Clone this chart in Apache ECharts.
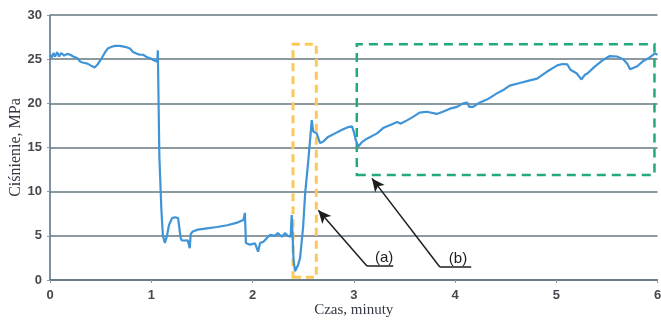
<!DOCTYPE html>
<html>
<head>
<meta charset="utf-8">
<script src="https://cdn.jsdelivr.net/npm/echarts@6/dist/echarts.min.js"></script>
<style>
  html, body { margin: 0; padding: 0; background: #ffffff; }
  #chart { width: 661px; height: 320px; }
</style>
</head>
<body>
<div id="chart"></div>
<script>
// Pressure trace: time in minutes
const czas = [
  0.00, 0.02, 0.033, 0.05, 0.07, 0.09, 0.11, 0.14, 0.17, 0.20, 0.23, 0.27, 0.30, 0.33, 0.37, 0.40,
  0.44, 0.47, 0.51, 0.54, 0.57, 0.61, 0.64, 0.69, 0.74, 0.79, 0.82, 0.86, 0.89, 0.92, 0.96, 0.99,
  1.02, 1.06, 1.065, 1.08, 1.10, 1.115, 1.135, 1.155, 1.175, 1.205, 1.235, 1.265, 1.28, 1.29, 1.30,
  1.33, 1.36, 1.38, 1.39, 1.41, 1.46, 1.55, 1.65, 1.75, 1.85, 1.91, 1.925, 1.935, 1.975, 2.025,
  2.055, 2.075, 2.105, 2.155, 2.175, 2.22, 2.25, 2.29, 2.32, 2.35, 2.377, 2.387, 2.397, 2.405,
  2.42, 2.45, 2.47, 2.50, 2.52, 2.55, 2.57, 2.585, 2.60, 2.617, 2.634, 2.647, 2.667, 2.696,
  2.746, 2.815, 2.884, 2.943, 2.983, 3.00, 3.02, 3.045, 3.08, 3.13, 3.23, 3.29, 3.36, 3.43,
  3.46, 3.53, 3.59, 3.65, 3.72, 3.82, 3.88, 3.95, 4.02, 4.08, 4.12, 4.14, 4.18, 4.23, 4.32,
  4.41, 4.49, 4.54, 4.64, 4.74, 4.81, 4.91, 5.01, 5.06, 5.11, 5.14, 5.20, 5.25, 5.28, 5.31,
  5.38, 5.46, 5.53, 5.60, 5.66, 5.70, 5.73, 5.80, 5.86, 5.91, 5.975, 6.00
];
// Pressure values, MPa
const cisnienie = [
  25.5, 25.2, 25.7, 25.3, 25.8, 25.3, 25.7, 25.4, 25.6, 25.5, 25.3, 25.1, 24.7, 24.6, 24.5, 24.3,
  24.05, 24.4, 25.1, 25.7, 26.2, 26.4, 26.5, 26.5, 26.4, 26.2, 25.8, 25.6, 25.5, 25.5, 25.2, 25.1,
  24.9, 24.7, 26.0, 14.0, 8.0, 5.0, 4.2, 5.0, 6.2, 7.0, 7.1, 7.0, 7.2, 4.8, 4.5,
  4.45, 4.5, 3.6, 5.2, 5.5, 5.7, 5.85, 6.0, 6.2, 6.5, 6.8, 7.6, 4.2, 4.0, 4.15,
  3.2, 4.2, 4.3, 4.9, 5.1, 5.0, 5.3, 4.9, 5.3, 5.0, 4.9, 7.35, 4.9, 2.3,
  1.0, 1.7, 2.5, 6.0, 9.8, 13.4, 16.0, 18.1, 16.8, 16.9, 16.6, 16.8, 15.5, 15.65,
  16.2, 16.6, 17.0, 17.3, 17.4, 16.8, 15.85, 15.1, 15.6, 16.0, 16.6, 17.2, 17.55, 17.9,
  17.7, 18.1, 18.5, 18.95, 19.05, 18.8, 19.05, 19.4, 19.6, 20.0, 20.1, 19.6, 19.6, 20.0, 20.45,
  21.1, 21.6, 22.0, 22.3, 22.6, 22.8, 23.6, 24.3, 24.45, 24.4, 23.8, 23.4, 22.7, 23.2, 23.4,
  24.15, 24.9, 25.35, 25.3, 25.0, 24.5, 23.85, 24.2, 24.8, 25.1, 25.65, 25.5
];
const xTicks = [0, 1, 2, 3, 4, 5, 6];
const yTicks = [0, 5, 10, 15, 20, 25, 30];

// Highlighted regions: [x0, y0] - [x1, y1]
const regionA = [[2.40, 0.3], [2.63, 26.7]];
const regionB = [[3.03, 11.9], [5.97, 26.7]];

// Leader lines: label anchor, bend point, arrow tip
const leaderA = { label: '(a)', text: [3.30, 2.45], end: [3.39, 1.58], bend: [3.13, 1.58], tip: [2.65, 7.9] };
const leaderB = { label: '(b)', text: [4.03, 2.35], end: [4.16, 1.47], bend: [3.85, 1.47], tip: [3.18, 11.5] };

const series = czas.map((t, i) => [t, cisnienie[i]]);

const chart = echarts.init(document.getElementById('chart'), null, { renderer: 'canvas' });

function leaderLines(ld) {
  return [
    [{ coord: ld.end, symbol: 'none' }, { coord: ld.bend, symbol: 'none' }],
    [{ coord: ld.bend, symbol: 'none' }, { coord: ld.tip, symbol: 'arrow', symbolSize: [9, 13] }]
  ];
}

chart.setOption({
  animation: false,
  backgroundColor: '#ffffff',
  grid: { left: 50, right: 3.5, top: 15, bottom: 40, containLabel: false, outerBoundsMode: 'none' },
  xAxis: {
    type: 'value',
    min: xTicks[0],
    max: xTicks[xTicks.length - 1],
    interval: 1,
    name: 'Czas, minuty',
    nameLocation: 'middle',
    nameGap: 23,
    nameMoveOverlap: false,
    nameTextStyle: { fontFamily: 'Liberation Serif', fontSize: 15, color: '#333a44' },
    axisLine: { show: true, lineStyle: { color: '#5f7480', width: 1.5 } },
    axisTick: { show: true, length: 3, inside: false, lineStyle: { color: '#8a9aa4' } },
    axisLabel: { color: '#45494f', fontFamily: 'Liberation Sans', fontWeight: 'bold', fontSize: 13, margin: 9 },
    splitLine: { show: false }
  },
  yAxis: {
    type: 'value',
    min: yTicks[0],
    max: yTicks[yTicks.length - 1],
    interval: 5,
    name: 'Ciśnienie, MPa',
    nameLocation: 'middle',
    nameGap: 26,
    nameMoveOverlap: false,
    nameTextStyle: { fontFamily: 'Liberation Serif', fontSize: 16, color: '#333a44' },
    axisLine: { show: true, lineStyle: { color: '#4f6f88', width: 1.5 } },
    axisTick: { show: true, length: 3, lineStyle: { color: '#8a9aa4' } },
    axisLabel: { color: '#45494f', fontFamily: 'Liberation Sans', fontWeight: 'bold', fontSize: 13, margin: 8 },
    splitLine: { show: true, lineStyle: { color: '#66777f', width: 1.5 } }
  },
  series: [
    {
      type: 'line',
      data: series,
      showSymbol: false,
      smooth: false,
      lineStyle: { color: '#3f94d8', width: 2.2 },
      z: 3,
      markArea: {
        silent: true,
        data: [
          [
            { coord: regionA[0], itemStyle: { color: 'rgba(0,0,0,0)', borderColor: '#fcc85a', borderWidth: 3, borderType: [8, 5] } },
            { coord: regionA[1] }
          ],
          [
            { coord: regionB[0], itemStyle: { color: 'rgba(0,0,0,0)', borderColor: '#22aa7a', borderWidth: 2.5, borderType: [9, 6] } },
            { coord: regionB[1] }
          ]
        ]
      }
    },
    {
      type: 'line',
      data: [],
      z: 5,
      markLine: {
        silent: true,
        animation: false,
        label: { show: false },
        lineStyle: { color: '#1e1e1e', width: 1.5, type: 'solid' },
        data: [...leaderLines(leaderA), ...leaderLines(leaderB)]
      },
      markPoint: {
        silent: true,
        symbolSize: 0,
        label: {
          show: true,
          color: '#1e1e1e',
          fontFamily: 'Liberation Sans',
          fontSize: 15,
          formatter: p => p.name
        },
        data: [
          { name: leaderA.label, coord: leaderA.text },
          { name: leaderB.label, coord: leaderB.text }
        ]
      }
    }
  ]
});
</script>
</body>
</html>
